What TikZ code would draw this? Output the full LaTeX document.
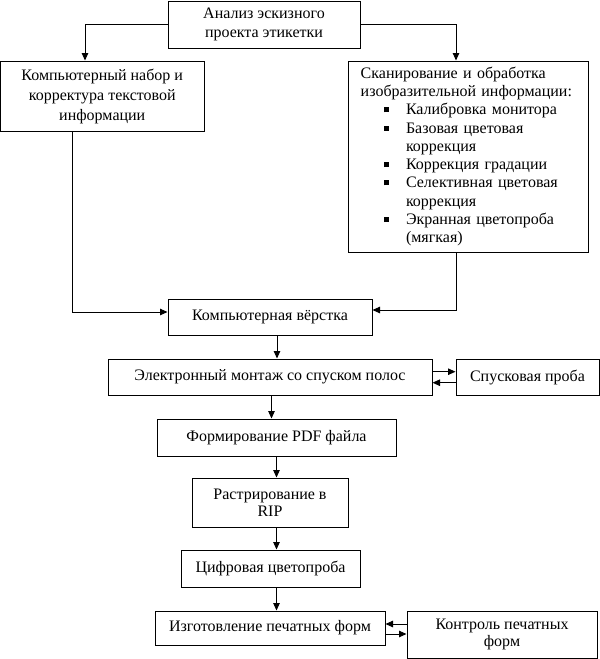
\documentclass[tikz,border=0pt]{standalone}
\usepackage{fontspec}
\setmainfont{Liberation Serif}
\usetikzlibrary{arrows.meta}
\newcommand{\blt}{\makebox[22pt][l]{\raisebox{2.5pt}{\rule{5pt}{5pt}}}}
\begin{document}
\begin{tikzpicture}[x=1pt,y=-1pt,
  box/.style={draw, line width=1pt, rectangle, inner sep=0pt, align=center,
    font=\fontsize{16}{18.3}\selectfont},
  arr/.style={line width=1pt, -{Triangle[length=7.5pt,width=6.5pt]}}]
\useasboundingbox[fill=white] (0,0) rectangle (600,659);

\node[box, minimum width=192, minimum height=47] (top) at (264,24.5)
  {Анализ эскизного\\проекта этикетки};
\node[box, minimum width=203.5, minimum height=70,
  font=\fontsize{16}{20}\selectfont] (left) at (102.25,96)
  {Компьютерный набор и\\корректура текстовой\\информации};
\node[box, minimum width=240, minimum height=191, text width=216pt,
  inner xsep=12pt, align=left] (scan) at (468,156.5)
  {\hspace*{0.7pt}Сканирование и обработка\\
   \hspace*{0.7pt}изобразительной информации:\\
   \hspace*{24pt}\blt Калибровка монитора\\
   \hspace*{24pt}\blt Базовая цветовая\\
   \hspace*{46pt}коррекция\\
   \hspace*{24pt}\blt Коррекция градации\\
   \hspace*{24pt}\blt Селективная цветовая\\
   \hspace*{46pt}коррекция\\
   \hspace*{24pt}\blt Экранная цветопроба\\
   \hspace*{46pt}(мягкая)};
\node[box, minimum width=204, minimum height=36] (verstka) at (270,317)
  {Компьютерная вёрстка};
\node[box, minimum width=324, minimum height=36] (montage) at (270,377)
  {Электронный монтаж со спуском полос};
\node[box, minimum width=143, minimum height=36] (spusk) at (527.5,377)
  {Спусковая проба};
\node[box, minimum width=239, minimum height=37] (pdf) at (276.5,437.5)
  {Формирование PDF файла};
\node[box, minimum width=156, minimum height=49,
  font=\fontsize{16}{16.7}\selectfont] (rip) at (270,502.5)
  {Растрирование в\\RIP};
\node[box, minimum width=179, minimum height=37] (cifr) at (270.5,568.5)
  {Цифровая цветопроба};
\node[box, minimum width=230, minimum height=34] (izgot) at (270,628)
  {Изготовление печатных форм};
\node[box, minimum width=190, minimum height=47,
  font=\fontsize{16}{17}\selectfont] (kontrol) at (502,634.5)
  {Контроль печатных\\форм};

\draw[arr] (top.west) -| ([xshift=-17.25pt]left.north);
\draw[arr] (top.east) -| ([xshift=-12pt]scan.north);
\draw[arr] ([xshift=-29.5pt]left.south) |- ([yshift=5pt]verstka.west);
\draw[arr] ([xshift=-11.5pt]scan.south) |- ([yshift=7pt]verstka.east);
\draw[arr] ([xshift=7pt]verstka.south) -- ([xshift=7pt]verstka.south |- montage.north);
\draw[arr] ([yshift=5.3pt]montage.east) -- ([yshift=5.3pt]montage.east -| spusk.west);
\draw[arr] ([yshift=-5.7pt]spusk.west) -- ([yshift=-5.7pt]spusk.west -| montage.east);
\draw[arr] ([xshift=1.5pt]montage.south) -- ([xshift=1.5pt]montage.south |- pdf.north);
\draw[arr] (pdf.south) -- (pdf.south |- rip.north);
\draw[arr] ([xshift=6.5pt]rip.south) -- ([xshift=6.5pt]rip.south |- cifr.north);
\draw[arr] ([xshift=6pt]cifr.south) -- ([xshift=6pt]cifr.south |- izgot.north);
\draw[arr] ([yshift=4pt]izgot.east -| kontrol.west) -- ([yshift=4pt]izgot.east);
\draw[arr] ([yshift=-6pt]izgot.east) -- ([yshift=-6pt]izgot.east -| kontrol.west);
\end{tikzpicture}
\end{document}
